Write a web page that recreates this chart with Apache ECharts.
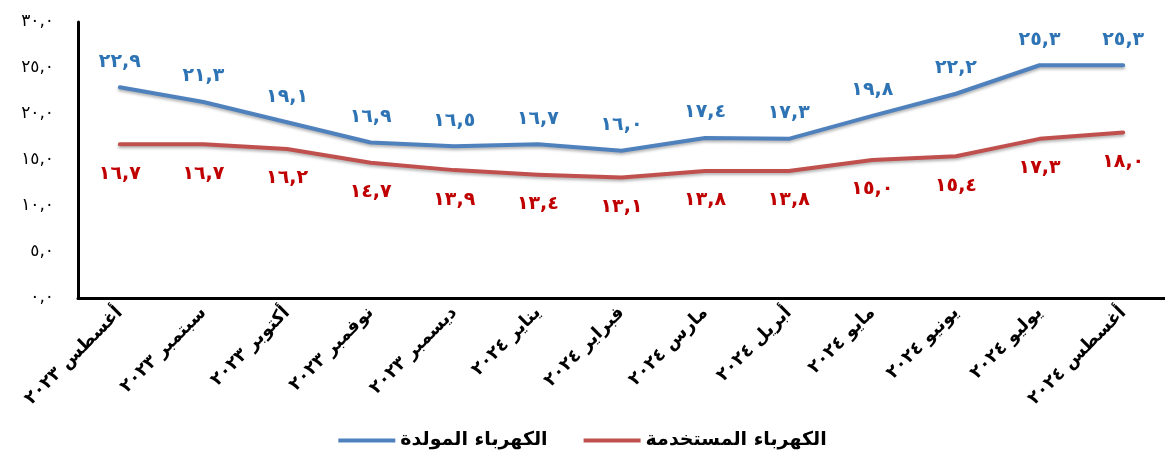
<!DOCTYPE html>
<html>
<head>
<meta charset="utf-8">
<script src="https://cdn.jsdelivr.net/npm/echarts@6/dist/echarts.min.js"></script>
<style>
html,body{margin:0;padding:0;background:#fff;}
#chart{width:1165px;height:452px;}
</style>
</head>
<body>
<div id="chart"></div>
<script>
// الأشهر
var months = ['أغسطس ٢٠٢٣','سبتمبر ٢٠٢٣','أكتوبر ٢٠٢٣','نوفمبر ٢٠٢٣','ديسمبر ٢٠٢٣','يناير ٢٠٢٤','فبراير ٢٠٢٤','مارس ٢٠٢٤','أبريل ٢٠٢٤','مايو ٢٠٢٤','يونيو ٢٠٢٤','يوليو ٢٠٢٤','أغسطس ٢٠٢٤'];
// الكهرباء المولدة
var generated = [22.9, 21.3, 19.1, 16.9, 16.5, 16.7, 16.0, 17.4, 17.3, 19.8, 22.2, 25.3, 25.3];
// الكهرباء المستخدمة
var used = [16.7, 16.7, 16.2, 14.7, 13.9, 13.4, 13.1, 13.8, 13.8, 15.0, 15.4, 17.3, 18.0];
var seriesNames = ['الكهرباء المولدة', 'الكهرباء المستخدمة'];

var digits = '٠١٢٣٤٥٦٧٨٩';
function arNum(v){
    return v.toFixed(1).replace('.', ',').replace(/[0-9]/g, function(d){ return digits[+d]; });
}

var font = '"DejaVu Sans", sans-serif';
var chart = echarts.init(document.getElementById('chart'));
var option = {
    animation: false,
    textStyle: {fontFamily: font},
    grid: {left: 78, top: 22, height: 276, width: 1115, containLabel: false},
    legend: {
        bottom: -3,
        left: 'center',
        icon: 'rect',
        itemWidth: 57,
        itemHeight: 4,
        itemGap: 36,
        textStyle: {fontFamily: font, fontSize: 19, fontWeight: 'bold', color: '#000'},
        data: seriesNames
    },
    xAxis: {
        type: 'category',
        data: months,
        boundaryGap: true,
        axisLine: {lineStyle: {color: '#000', width: 3}},
        axisTick: {show: false},
        axisLabel: {rotate: 45, margin: 12, fontSize: 18, fontWeight: 'bold', color: '#000', fontFamily: font, interval: 0}
    },
    yAxis: {
        type: 'value',
        min: 0,
        max: 30,
        interval: 5,
        splitLine: {show: false},
        axisLine: {show: true, lineStyle: {color: '#000', width: 3}},
        axisTick: {show: false},
        axisLabel: {margin: 24, fontSize: 17, color: '#000', fontFamily: font, formatter: function(v){ return arNum(v); }}
    },
    series: [
        {
            name: seriesNames[0],
            type: 'line',
            data: generated,
            symbol: 'circle',
            symbolSize: 0,
            lineStyle: {color: '#4F81BD', width: 4, shadowColor: 'rgba(0,0,0,0.3)', shadowBlur: 3, shadowOffsetY: 2, join: 'round', cap: 'round'},
            itemStyle: {color: '#4F81BD'},
            label: {show: true, position: 'top', distance: 16, color: '#2E74B5', fontSize: 19, fontWeight: 'bold', fontFamily: font,
                formatter: function(p){ return arNum(p.value); }}
        },
        {
            name: seriesNames[1],
            type: 'line',
            data: used,
            symbol: 'circle',
            symbolSize: 0,
            lineStyle: {color: '#C0504D', width: 4, shadowColor: 'rgba(0,0,0,0.3)', shadowBlur: 3, shadowOffsetY: 2, join: 'round', cap: 'round'},
            itemStyle: {color: '#C0504D'},
            label: {show: true, position: 'bottom', distance: 20, color: '#C00000', fontSize: 19, fontWeight: 'bold', fontFamily: font,
                formatter: function(p){ return arNum(p.value); }}
        }
    ]
};
chart.setOption(option);
</script>
</body>
</html>
